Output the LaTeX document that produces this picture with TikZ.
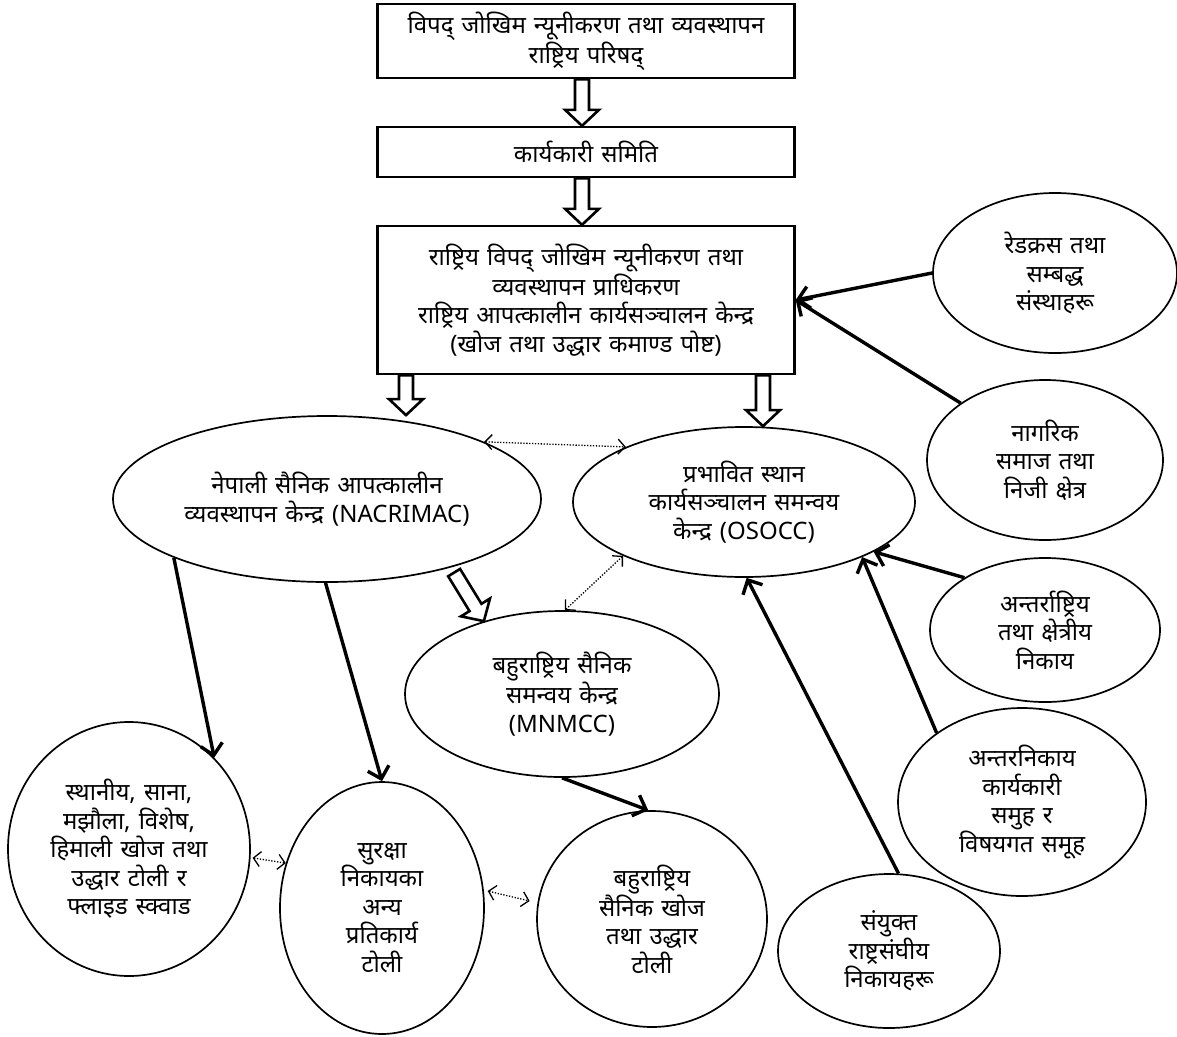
\documentclass[tikz,border=0pt]{standalone}
\usepackage{fontspec}
\setmainfont[Script=Devanagari,WordSpace=1.3]{Noto Sans}
\usetikzlibrary{shapes.geometric,arrows.meta,calc}
\tikzset{
  box/.style={draw, line width=2.4pt, minimum width=417pt, inner sep=0pt, align=center},
  oval/.style={draw, ellipse, line width=1.7pt, inner sep=0pt, align=center},
  hollowarrow/.style={draw=black, line width=2.6pt, fill=white, line join=miter},
  solidarrow/.style={line width=3.4pt, -{Straight Barb[length=11pt,width=22pt]}},
  dotarrow/.style={line width=1.3pt, dash pattern=on 1.3pt off 1.6pt,
    {Straight Barb[length=7pt,width=15pt]}-{Straight Barb[length=7pt,width=15pt]}},
}
\newcommand\hollowarr[2]{%
  \draw[hollowarrow] let \p1=(#1), \p2=(#2),
    \n1={atan2(\y2-\y1,\x2-\x1)}, \n2={veclen(\x2-\x1,\y2-\y1)-16} in
    ($(\p1)+(\n1+90:7pt)$) -- ($(\p1)+(\n1:{\n2*1pt})+(\n1+90:7pt)$)
    -- ($(\p1)+(\n1:{\n2*1pt})+(\n1+90:17pt)$) -- (\p2)
    -- ($(\p1)+(\n1:{\n2*1pt})+(\n1-90:17pt)$) -- ($(\p1)+(\n1:{\n2*1pt})+(\n1-90:7pt)$)
    -- ($(\p1)+(\n1-90:7pt)$) -- cycle;}
\begin{document}
\begin{tikzpicture}[x=1pt,y=-1pt]
\fill[white] (0,0) rectangle (1177,1036);
\useasboundingbox (0,0) rectangle (1177,1036);
\fontsize{24}{28.5}\selectfont
% boxes
\node[box, minimum height=74pt] (b1) at (586,41) {विपद् जोखिम न्यूनीकरण तथा व्यवस्थापन\\राष्ट्रिय परिषद्};
\node[box, minimum height=50pt] (b2) at (586,152) {कार्यकारी समिति};
\node[box, minimum height=148pt] (b3) at (586,300) {\fontsize{24}{26.5}\selectfont राष्ट्रिय विपद् जोखिम न्यूनीकरण तथा\\व्यवस्थापन प्राधिकरण\\राष्ट्रिय आपत्कालीन कार्यसञ्चालन केन्द्र\\(खोज तथा उद्धार कमाण्ड पोष्ट)};
% ellipses
\node[oval, minimum width=428pt, minimum height=166pt] (nac) at (327,499) {नेपाली सैनिक आपत्कालीन\\व्यवस्थापन केन्द्र (NACRIMAC)};
\node[oval, minimum width=342pt, minimum height=150pt] (os) at (744,502) {प्रभावित स्थान\\कार्यसञ्चालन समन्वय\\केन्द्र (OSOCC)};
\node[oval, minimum width=314pt, minimum height=166pt] (mn) at (562,694) {बहुराष्ट्रिय सैनिक\\समन्वय केन्द्र\\(MNMCC)};
\node[oval, minimum width=242pt, minimum height=254pt] (sth) at (129,849) {स्थानीय, साना,\\मझौला, विशेष,\\हिमाली खोज तथा\\उद्धार टोली र\\फ्लाइड स्क्वाड};
\node[oval, minimum width=204pt, minimum height=252pt] (sur) at (382,908) {सुरक्षा\\निकायका\\अन्य\\प्रतिकार्य\\टोली};
\node[oval, minimum width=230pt, minimum height=216pt] (kh) at (652,919) {बहुराष्ट्रिय\\सैनिक खोज\\तथा उद्धार\\टोली};
\node[oval, minimum width=222pt, minimum height=154pt] (sa) at (889,951) {संयुक्त\\राष्ट्रसंघीय\\निकायहरू};
\node[oval, minimum width=248pt, minimum height=188pt] (ani) at (1022,802) {अन्तरनिकाय\\कार्यकारी\\समुह र\\विषयगत समूह};
\node[oval, minimum width=230pt, minimum height=144pt] (ai) at (1045,630) {अन्तर्राष्ट्रिय\\तथा क्षेत्रीय\\निकाय};
\node[oval, minimum width=236pt, minimum height=160pt] (ng) at (1045,460) {नागरिक\\समाज तथा\\निजी क्षेत्र};
\node[oval, minimum width=244pt, minimum height=160pt] (rc) at (1055,273) {रेडक्रस तथा\\सम्बद्ध\\संस्थाहरू};
% hollow arrows
\hollowarr{[xshift=-4pt]b1.south}{[xshift=-4pt]b2.north}
\hollowarr{[xshift=-4pt]b2.south}{[xshift=-4pt]b3.north}
\coordinate (ha1) at ([xshift=-180pt]b3.south);
\hollowarr{ha1}{ha1 |- nac.north}
\coordinate (ha2) at ([xshift=177pt]b3.south);
\hollowarr{ha2}{ha2 |- os.north}
\hollowarr{[yshift=-6pt]nac.-28}{mn.137}
% solid arrows
\draw[solidarrow] (rc.west) -- (b3.east);
\draw[solidarrow] (ng.146) -- (b3.east);
\draw[solidarrow] (nac.201) -- (sth.47);
\draw[solidarrow] (nac.269) -- (sur.north);
\draw[solidarrow] (mn.270) -- (kh.92);
\draw[solidarrow] (sa.83) -- (os.272);
\draw[solidarrow] (ai.147) -- (os.-21);
\draw[solidarrow] (ani.141) -- (os.-25);
% dotted arrows
\draw[dotarrow] (nac.20) -- (os.155);
\draw[dotarrow] (mn.88) -- (os.204);
\draw[dotarrow, shorten <=2pt] (sth.-4) -- (sur.155);
\draw[dotarrow, shorten <=4pt, shorten >=8pt] (sur.10) -- (kh.172);
\end{tikzpicture}
\end{document}
